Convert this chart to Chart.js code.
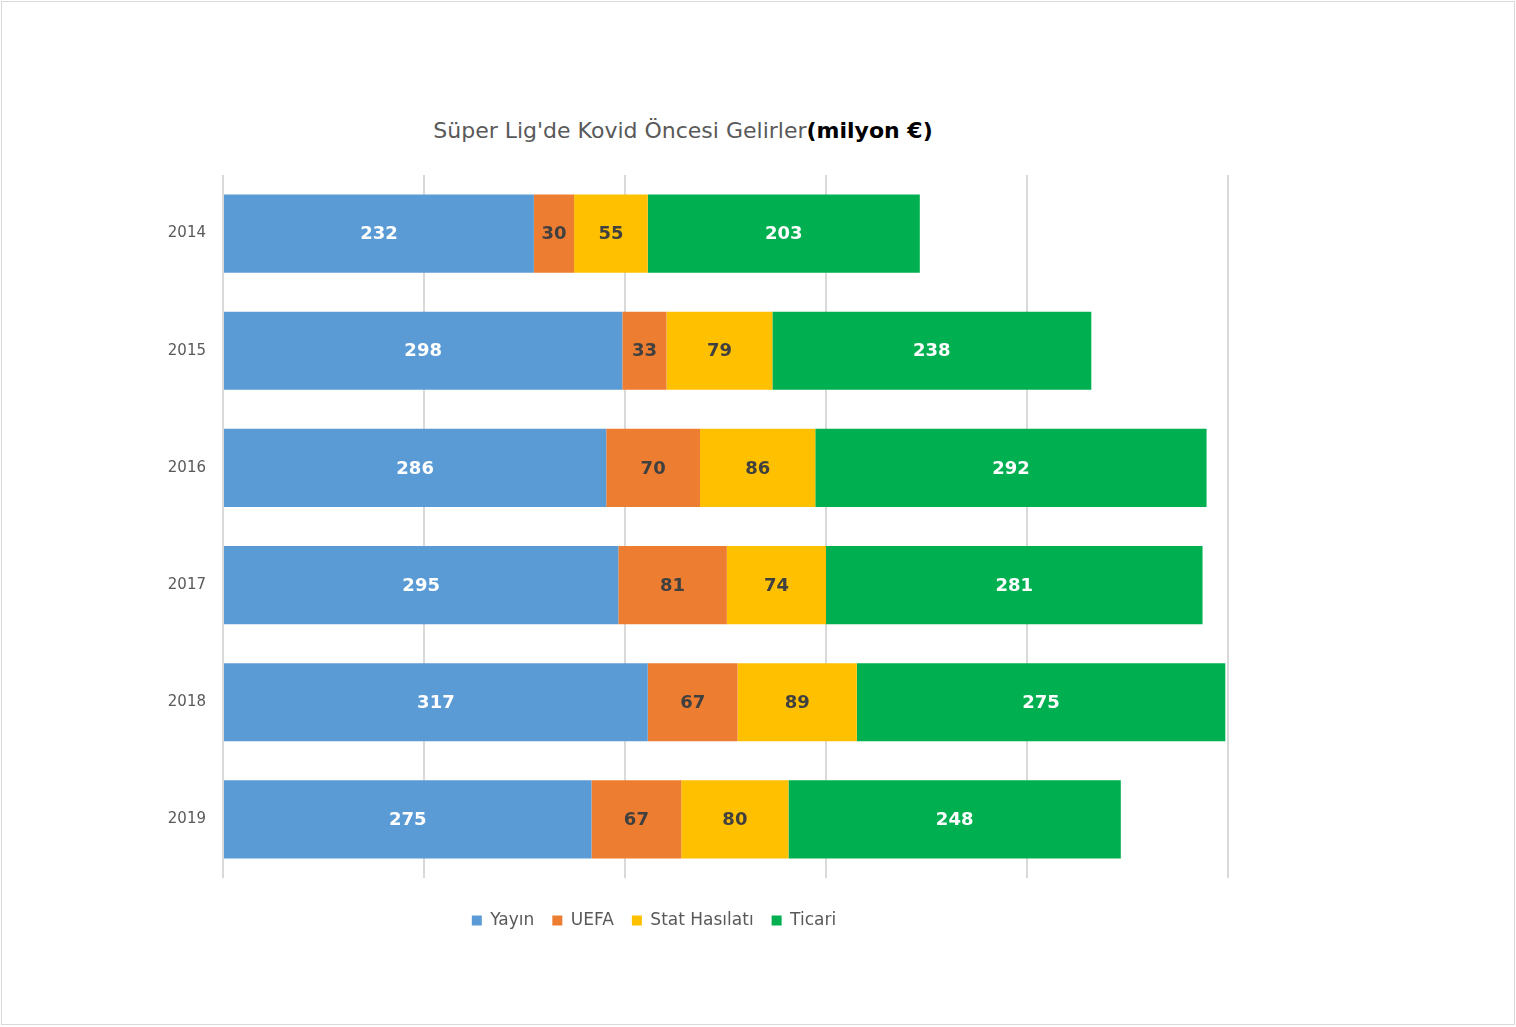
<!DOCTYPE html>
<html>
<head>
<meta charset="utf-8">
<script src="https://cdn.jsdelivr.net/npm/chart.js@4"></script>
<style>
  body { margin: 0; background: #fff; font-family: "DejaVu Sans", sans-serif; }
  #frame { position: absolute; left: 1px; top: 1px; width: 1512px; height: 1022px; border: 1px solid #d9d9d9; }
  #title { position: absolute; left: 283px; width: 800px; top: 118px; text-align: center; font-size: 22px; color: #595959; white-space: nowrap; }
  #title b { color: #000; }
  #box { position: absolute; left: 80px; top: 100px; width: 1156px; height: 839px; }
</style>
</head>
<body>
<div id="frame"></div>
<div id="title">Süper Lig'de Kovid Öncesi Gelirler<b>(milyon €)</b></div>
<div id="box"><canvas id="revenueChart"></canvas></div>
<script>
const years = ["2014", "2015", "2016", "2017", "2018", "2019"];
const yayin = [232, 298, 286, 295, 317, 275];
const uefa = [30, 33, 70, 81, 67, 67];
const statHasilati = [55, 79, 86, 74, 89, 80];
const ticari = [203, 238, 292, 281, 275, 248];

const seriesNames = ["Yayın", "UEFA", "Stat Hasılatı", "Ticari"];
const seriesColors = ["#5b9bd5", "#ed7d31", "#ffc000", "#00b050"];
const labelColors = ["#ffffff", "#404040", "#404040", "#ffffff"];

const barLabels = {
  id: "barLabels",
  afterDatasetsDraw(chart) {
    const ctx = chart.ctx;
    ctx.save();
    ctx.font = 'bold 18px "DejaVu Sans"';
    ctx.textAlign = "center";
    ctx.textBaseline = "middle";
    chart.data.datasets.forEach((ds, i) => {
      const meta = chart.getDatasetMeta(i);
      ctx.fillStyle = labelColors[i];
      meta.data.forEach((bar, j) => {
        ctx.fillText(ds.data[j], (bar.x + bar.base) / 2, bar.y + 1);
      });
    });
    ctx.restore();
  },
};

const ctx = document.getElementById("revenueChart").getContext("2d");
new Chart(ctx, {
  type: "bar",
  data: {
    labels: years,
    datasets: [yayin, uefa, statHasilati, ticari].map((values, i) => ({
      label: seriesNames[i],
      data: values,
      backgroundColor: seriesColors[i],
      categoryPercentage: 1,
      barPercentage: 0.667,
    })),
  },
  options: {
    indexAxis: "y",
    responsive: true,
    maintainAspectRatio: false,
    animation: false,
    layout: { padding: { top: 75, right: 8, left: 0, bottom: 0 } },
    scales: {
      x: {
        stacked: true,
        min: 0,
        max: 750,
        ticks: { display: false, stepSize: 150 },
        grid: { color: "#d9d9d9", lineWidth: 2, drawTicks: false },
        border: { display: false },
        afterFit: (scale) => { scale.height = 16; },
      },
      y: {
        stacked: true,
        ticks: { color: "#595959", font: { family: "DejaVu Sans", size: 15 }, padding: 17 },
        grid: { display: false, drawTicks: false },
        border: { display: false },
        afterFit: (scale) => { scale.width = 143; },
      },
    },
    plugins: {
      legend: {
        position: "bottom",
        labels: {
          boxWidth: 10,
          boxHeight: 10,
          padding: 18,
          color: "#595959",
          font: { family: "DejaVu Sans", size: 17 },
        },
      },
      tooltip: { enabled: false },
    },
  },
  plugins: [barLabels],
});
</script>
</body>
</html>
